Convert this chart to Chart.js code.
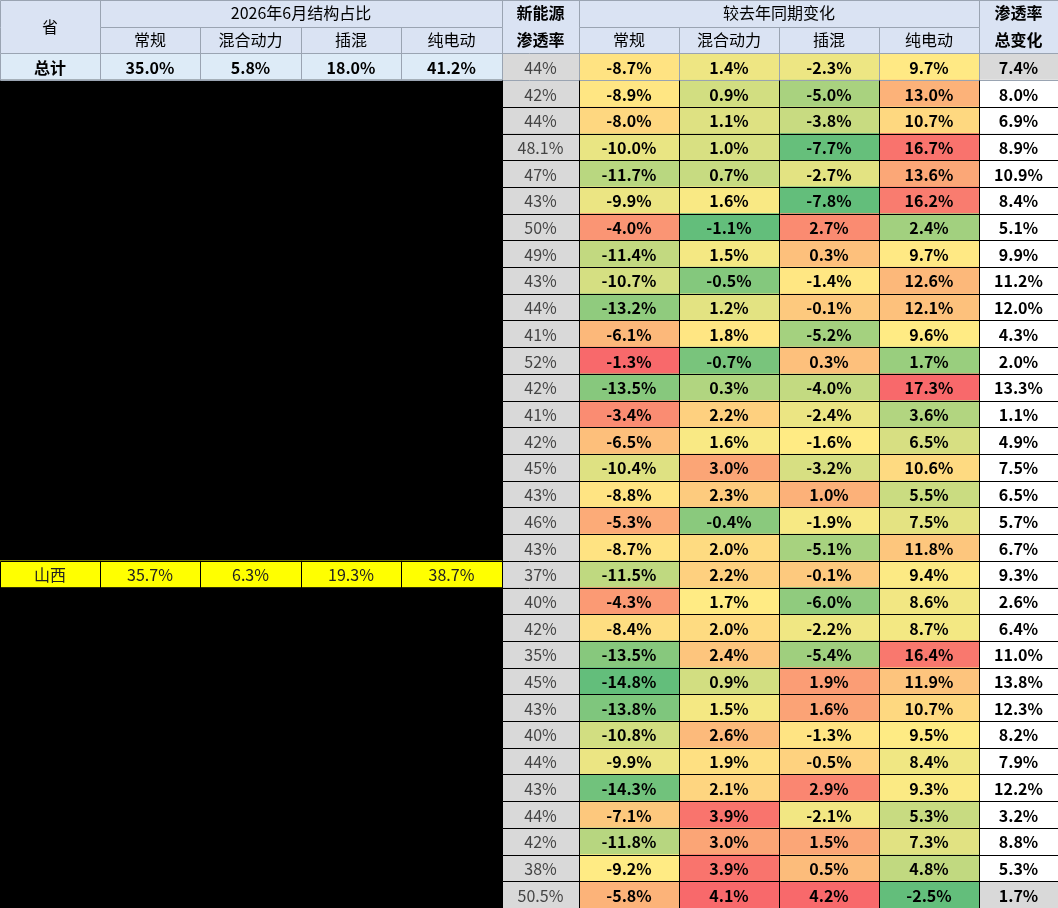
<!DOCTYPE html>
<html><head><meta charset="utf-8">
<script src="https://cdn.jsdelivr.net/npm/chart.js@4/dist/chart.umd.min.js"></script>
<style>html,body{margin:0;padding:0;background:#000}#wrap{width:1058px;height:908px}</style>
</head><body><div id="wrap"><canvas id="c"></canvas></div>
<script>
// Column edges (px-like units on the x scale)
const colEdges = [0, 100, 200, 301, 401, 502, 579, 679, 779, 879, 979, 1058];

// Data rows (province names hidden except 山西)
const provinces = ['', '', '', '', '', '', '', '', '', '', '', '', '', '', '', '', '', '', '山西', '', '', '', '', '', '', '', '', '', '', '', ''];
const penetration = ['42%', '44%', '48.1%', '47%', '43%', '50%', '49%', '43%', '44%', '41%', '52%', '42%', '41%', '42%', '45%', '43%', '46%', '43%', '37%', '40%', '42%', '35%', '45%', '43%', '40%', '44%', '43%', '44%', '42%', '38%', '50.5%'];
const chgRegular = [-8.9, -8.0, -10.0, -11.7, -9.9, -4.0, -11.4, -10.7, -13.2, -6.1, -1.3, -13.5, -3.4, -6.5, -10.4, -8.8, -5.3, -8.7, -11.5, -4.3, -8.4, -13.5, -14.8, -13.8, -10.8, -9.9, -14.3, -7.1, -11.8, -9.2, -5.8];
const chgHybrid = [0.9, 1.1, 1.0, 0.7, 1.6, -1.1, 1.5, -0.5, 1.2, 1.8, -0.7, 0.3, 2.2, 1.6, 3.0, 2.3, -0.4, 2.0, 2.2, 1.7, 2.0, 2.4, 0.9, 1.5, 2.6, 1.9, 2.1, 3.9, 3.0, 3.9, 4.1];
const chgPhev = [-5.0, -3.8, -7.7, -2.7, -7.8, 2.7, 0.3, -1.4, -0.1, -5.2, 0.3, -4.0, -2.4, -1.6, -3.2, 1.0, -1.9, -5.1, -0.1, -6.0, -2.2, -5.4, 1.9, 1.6, -1.3, -0.5, 2.9, -2.1, 1.5, 0.5, 4.2];
const chgBev = [13.0, 10.7, 16.7, 13.6, 16.2, 2.4, 9.7, 12.6, 12.1, 9.6, 1.7, 17.3, 3.6, 6.5, 10.6, 5.5, 7.5, 11.8, 9.4, 8.6, 8.7, 16.4, 11.9, 10.7, 9.5, 8.4, 9.3, 5.3, 7.3, 4.8, -2.5];
const chgTotal = [8.0, 6.9, 8.9, 10.9, 8.4, 5.1, 9.9, 11.2, 12.0, 4.3, 2.0, 13.3, 1.1, 4.9, 7.5, 6.5, 5.7, 6.7, 9.3, 2.6, 6.4, 11.0, 13.8, 12.3, 8.2, 7.9, 12.2, 3.2, 8.8, 5.3, 1.7];
// 山西 structure share
const shanxiShare = ['35.7%', '6.3%', '19.3%', '38.7%'];
// 总计 row
const totalShare = ['35.0%', '5.8%', '18.0%', '41.2%'];
const totalRow = { pen: '44%', chg: [-8.7, 1.4, -2.3, 9.7], total: 7.4 };

const rowLabels = ['h0', 'h1', '总计'].concat(provinces.map((p, i) => 'r' + i));
const N = rowLabels.length;
const pct = v => v.toFixed(1) + '%';

// 3-colour scale per column (green low, yellow mid, red high)
function scaleColor(v, arr) {
    const s = arr.slice().sort((a, b) => a - b);
    const min = s[0], max = s[s.length - 1], mid = s[Math.floor(s.length / 2)];
    const g = [99, 190, 123], y = [255, 235, 132], r = [248, 105, 107];
    let a, b, t;
    if (v <= mid) { a = g; b = y; t = (v - min) / (mid - min || 1); }
    else { a = y; b = r; t = (v - mid) / (max - mid || 1); }
    const c = a.map((x, i) => Math.round(x + (b[i] - x) * t));
    return `rgb(${c[0]},${c[1]},${c[2]})`;
}

const headerBg = '#dae3f3';
const datasets = [];
function cellDs(col, colors, texts) {
    datasets.push({
        data: rowLabels.map(() => [colEdges[col], colEdges[col + 1]]),
        backgroundColor: colors, texts: texts, grouped: false,
        barPercentage: 1, categoryPercentage: 1, borderWidth: 0
    });
}

const chgCols = [chgRegular, chgHybrid, chgPhev, chgBev];
const subHeads = ['常规', '混合动力', '插混', '纯电动'];
for (let col = 0; col < 11; col++) {
    const colors = [], texts = [];
    for (let r = 0; r < N; r++) {
        const i = r - 3;
        if (r < 2) { colors.push(headerBg); texts.push(''); continue; }
        if (col === 0) {
            if (r === 2) { colors.push('#ddebf7'); texts.push('总计'); }
            else if (provinces[i]) { colors.push('#ffff00'); texts.push(provinces[i]); }
            else { colors.push('#000'); texts.push(''); }
        } else if (col <= 4) {
            if (r === 2) { colors.push('#ddebf7'); texts.push(totalShare[col - 1]); }
            else if (provinces[i]) { colors.push('#ffff00'); texts.push(shanxiShare[col - 1]); }
            else { colors.push('#000'); texts.push(''); }
        } else if (col === 5) {
            colors.push('#d9d9d9'); texts.push(r === 2 ? totalRow.pen : penetration[i]);
        } else if (col <= 9) {
            const arr = chgCols[col - 6];
            const v = r === 2 ? totalRow.chg[col - 6] : arr[i];
            colors.push(scaleColor(v, arr.concat([totalRow.chg[col - 6]]))); texts.push(pct(v));
        } else {
            const v = r === 2 ? totalRow.total : chgTotal[i];
            colors.push(r === 2 || i === chgTotal.length - 1 ? '#d9d9d9' : '#ffffff'); texts.push(pct(v));
        }
    }
    cellDs(col, colors, texts);
}

// data bars in the 总变化 column
const barMax = 14.2;
datasets.push({
    data: rowLabels.map((l, r) => {
        const i = r - 3;
        if (i < 0 || i === chgTotal.length - 1) return null;
        return [colEdges[10] + 2, colEdges[10] + 2 + chgTotal[i] / barMax * 72];
    }),
    grouped: false, barPercentage: 0.92, categoryPercentage: 1,
    borderColor: '#3d8fe0', borderWidth: 1, borderSkipped: false,
    backgroundColor: ctx => {
        const xs = ctx.chart.scales && ctx.chart.scales.x;
        const raw = ctx.raw;
        if (!xs || !Array.isArray(raw)) return '#2f8fe8';
        const a = xs.getPixelForValue(raw[0]), b = xs.getPixelForValue(raw[1]);
        if (!isFinite(a) || !isFinite(b) || a === b) return '#2f8fe8';
        const g = ctx.chart.ctx.createLinearGradient(a, 0, b, 0);
        g.addColorStop(0, '#1782e6');
        g.addColorStop(1, '#f4f9ff');
        return g;
    }
});

const bold = "bold 16px 'Noto Sans CJK SC', 'Noto Sans', sans-serif";
const norm = "16px 'Noto Sans CJK SC', 'Noto Sans', sans-serif";

const tablePlugin = {
    id: 'table',
    afterDatasetsDraw(chart) {
        const c = chart.ctx, xs = chart.scales.x, ys = chart.scales.y;
        const px = v => Math.round(xs.getPixelForValue(v)) + 0.5;
        const rowH = ys.getPixelForValue(1) - ys.getPixelForValue(0);
        const top = r => Math.round(ys.getPixelForValue(r) - rowH / 2) + 0.5;
        c.save();
        // grid lines
        c.lineWidth = 1;
        for (let r = 0; r <= N; r++) {
            const y = top(r);
            c.strokeStyle = r <= 3 ? '#9aa4b2' : '#000';
            c.beginPath();
            if (r === 1) {
                [[1, 5], [6, 10]].forEach(([a, b]) => { c.moveTo(px(colEdges[a]), y); c.lineTo(px(colEdges[b]), y); });
            } else {
                const shan = (r - 3 === 18 || r - 3 === 19);
                const start = (r <= 3 || shan) ? 0 : 5;
                c.moveTo(px(colEdges[start]), y); c.lineTo(px(colEdges[11]), y);
            }
            c.stroke();
        }
        for (let k = 0; k < colEdges.length; k++) {
            for (let r = 0; r < N; r++) {
                const i = r - 3;
                if (r === 0 && ((k >= 2 && k <= 4) || (k >= 7 && k <= 9))) continue;
                if (r > 2 && k < 5 && !provinces[i]) continue;
                c.strokeStyle = r < 3 ? '#9aa4b2' : '#000';
                c.beginPath(); c.moveTo(px(colEdges[k]), top(r)); c.lineTo(px(colEdges[k]), top(r + 1)); c.stroke();
            }
        }
        // cell text
        c.textAlign = 'center'; c.textBaseline = 'middle';
        for (let d = 0; d < 11; d++) {
            const meta = chart.getDatasetMeta(d);
            meta.data.forEach((el, r) => {
                const t = chart.data.datasets[d].texts[r];
                if (!t) return;
                const shan = d < 5 && provinces[r - 3];
                c.font = (d === 5 || shan) ? norm : bold;
                c.fillStyle = shan ? '#222' : (d === 5 ? '#444' : '#000');
                c.fillText(t, (el.x + el.base) / 2, el.y + 1);
            });
        }
        // header text
        c.fillStyle = '#000'; c.font = norm;
        const mid = (a, b) => (xs.getPixelForValue(colEdges[a]) + xs.getPixelForValue(colEdges[b])) / 2;
        const y0 = ys.getPixelForValue(0), y1 = ys.getPixelForValue(1), ym = (y0 + y1) / 2;
        c.fillText('省', mid(0, 1), ym);
        c.fillText('2026年6月结构占比', mid(1, 5), y0);
        c.fillText('较去年同期变化', mid(6, 10), y0);
        subHeads.forEach((h, j) => { c.fillText(h, mid(1 + j, 2 + j), y1); c.fillText(h, mid(6 + j, 7 + j), y1); });
        c.font = bold;
        c.fillText('新能源', mid(5, 6), y0); c.fillText('渗透率', mid(5, 6), y1);
        c.fillText('渗透率', mid(10, 11), y0); c.fillText('总变化', mid(10, 11), y1);
        c.restore();
    }
};

new Chart(document.getElementById('c'), {
    type: 'bar',
    data: { labels: rowLabels, datasets: datasets },
    options: {
        indexAxis: 'y', responsive: true, maintainAspectRatio: false, animation: false,
        layout: { padding: 0 },
        plugins: { legend: { display: false }, tooltip: { enabled: false } },
        scales: {
            x: { type: 'linear', min: 0, max: 1058, display: false },
            y: { display: false, offset: true }
        }
    },
    plugins: [tablePlugin]
});
</script></body></html>
